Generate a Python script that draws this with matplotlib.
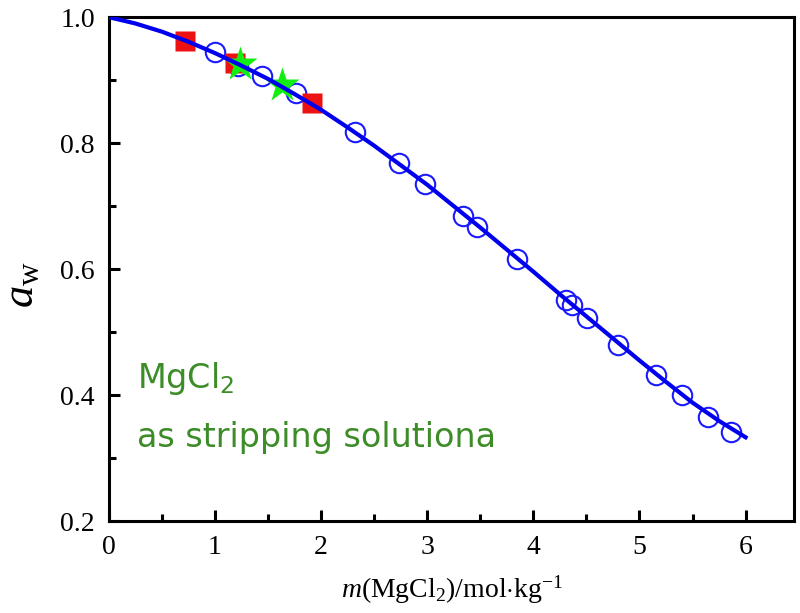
import numpy as np
import matplotlib.pyplot as plt
from matplotlib.ticker import MultipleLocator

# measured points (open circles)
m_circ = [1.00, 1.22, 1.44, 1.76, 2.32, 2.73, 2.98, 3.34, 3.47, 3.85,
          4.31, 4.36, 4.51, 4.80, 5.16, 5.40, 5.65, 5.86]
aw_circ = [0.944, 0.922, 0.906, 0.879, 0.817, 0.768, 0.735, 0.684, 0.667, 0.616,
           0.551, 0.543, 0.522, 0.479, 0.432, 0.400, 0.365, 0.341]

# red squares
m_sq = [0.72, 1.19, 1.91]
aw_sq = [0.962, 0.927, 0.863]

# green stars
m_star = [1.24, 1.63]
aw_star = [0.925, 0.892]

# fitted curve
m_fit = [0.0, 0.25, 0.5, 0.75, 1.0, 1.25, 1.5, 1.75, 2.0, 2.25, 2.5, 2.75,
         3.0, 3.25, 3.5, 3.75, 4.0, 4.25, 4.5, 4.75, 5.0, 5.25, 5.5, 5.75, 6.0]
aw_fit = [1.000, 0.990, 0.977, 0.961, 0.943, 0.923, 0.902, 0.878, 0.853, 0.825,
          0.796, 0.765, 0.734, 0.700, 0.666, 0.631, 0.596, 0.560, 0.525, 0.490,
          0.455, 0.421, 0.388, 0.359, 0.333]

plt.rcParams['font.family'] = 'Liberation Serif'
plt.rcParams['mathtext.fontset'] = 'custom'
plt.rcParams['mathtext.rm'] = 'Liberation Serif'
plt.rcParams['mathtext.it'] = 'Liberation Serif:italic'

fig = plt.figure(figsize=(8.0, 6.13), dpi=100)
ax = fig.add_axes([0.136, 0.150, 0.857, 0.822])

ax.plot(m_circ, aw_circ, 'o', ms=14, mfc='none', mec='#1a1aff', mew=1.5, zorder=2)
ax.plot(m_sq, aw_sq, 's', ms=14, color='#ee1111', mec='none', zorder=3)
ax.plot(m_star, aw_star, '*', ms=26, color='#11ee11', mec='none', zorder=4)
ax.plot(m_fit, aw_fit, '-', color='#0000ee', lw=3, zorder=5)

ax.set_xlim(0, 6.46)
ax.set_ylim(0.2, 1.0)
ax.xaxis.set_major_locator(MultipleLocator(1))
ax.xaxis.set_minor_locator(MultipleLocator(0.5))
ax.yaxis.set_minor_locator(MultipleLocator(0.1))
ax.set_yticks([0.2, 0.4, 0.6, 0.8, 1.0])
ax.set_yticklabels(['0.2', '0.4', '0.6', '0.8', '1.0'])

for s in ax.spines.values():
    s.set_linewidth(2.2)
ax.tick_params(which='both', direction='in', width=2.2, labelsize=20,
               top=False, right=False)
ax.tick_params(which='major', length=8)
ax.tick_params(which='minor', length=5)
ax.tick_params(axis='x', which='major', pad=10)
ax.tick_params(axis='y', which='major', pad=10)

ax.set_xlabel(r'$\it{m}$(MgCl$_2$)/mol$\cdot$kg$^{-1}$', fontsize=20)
ax.xaxis.set_label_coords(0.5, -0.105)
ax.set_ylabel(r'$\it{a}_{\rm w}$', fontsize=32)
ax.yaxis.set_label_coords(-0.097, 0.47)

green = '#3c8c28'
ax.text(0.041, 0.264, r'$\mathregular{MgCl_2}$', transform=ax.transAxes,
        fontsize=24, color=green, family='DejaVu Sans', va='baseline')
ax.text(0.041, 0.147, 'as stripping solutiona', transform=ax.transAxes,
        fontsize=24, color=green, family='DejaVu Sans', va='baseline')

fig.savefig('out.png', dpi=100)
